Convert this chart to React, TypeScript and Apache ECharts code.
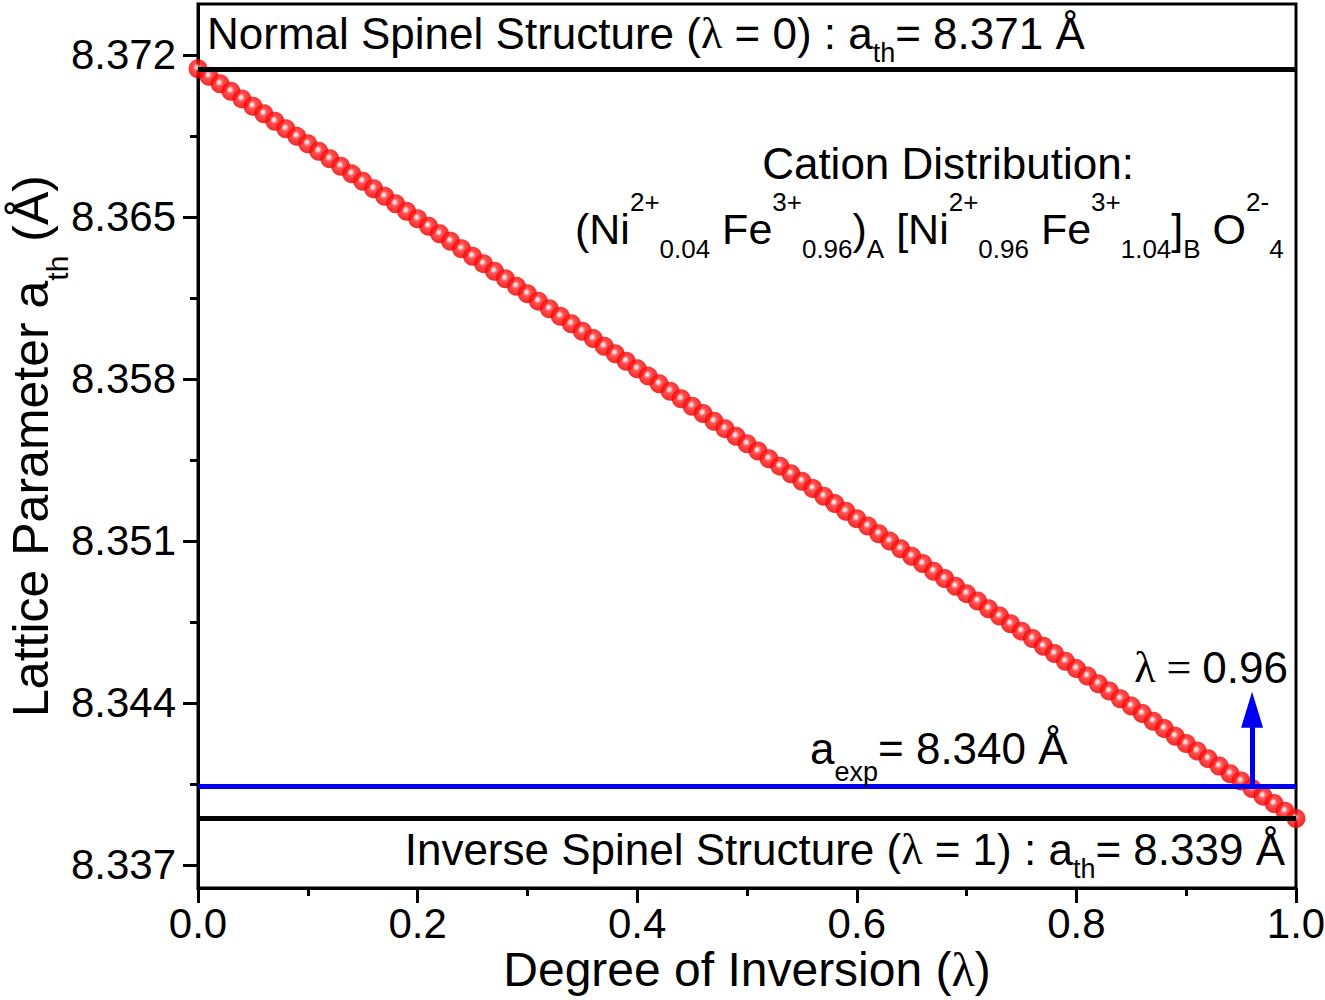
import React, { useEffect, useRef } from "react";
import * as echarts from "echarts";

// ---- data ----
const LAMBDA = [
  0.0, 0.01, 0.02, 0.03, 0.04, 0.05, 0.06, 0.07, 0.08, 0.09,
  0.1, 0.11, 0.12, 0.13, 0.14, 0.15, 0.16, 0.17, 0.18, 0.19,
  0.2, 0.21, 0.22, 0.23, 0.24, 0.25, 0.26, 0.27, 0.28, 0.29,
  0.3, 0.31, 0.32, 0.33, 0.34, 0.35, 0.36, 0.37, 0.38, 0.39,
  0.4, 0.41, 0.42, 0.43, 0.44, 0.45, 0.46, 0.47, 0.48, 0.49,
  0.5, 0.51, 0.52, 0.53, 0.54, 0.55, 0.56, 0.57, 0.58, 0.59,
  0.6, 0.61, 0.62, 0.63, 0.64, 0.65, 0.66, 0.67, 0.68, 0.69,
  0.7, 0.71, 0.72, 0.73, 0.74, 0.75, 0.76, 0.77, 0.78, 0.79,
  0.8, 0.81, 0.82, 0.83, 0.84, 0.85, 0.86, 0.87, 0.88, 0.89,
  0.9, 0.91, 0.92, 0.93, 0.94, 0.95, 0.96, 0.97, 0.98, 0.99,
  1.0,
];

const A_TH = [
  8.3714, 8.37108, 8.37075, 8.37043, 8.3701, 8.36978, 8.36946, 8.36913, 8.36881, 8.36848,
  8.36816, 8.36784, 8.36751, 8.36719, 8.36686, 8.36654, 8.36622, 8.36589, 8.36557, 8.36524,
  8.36492, 8.3646, 8.36427, 8.36395, 8.36362, 8.3633, 8.36298, 8.36265, 8.36233, 8.362,
  8.36168, 8.36136, 8.36103, 8.36071, 8.36038, 8.36006, 8.35974, 8.35941, 8.35909, 8.35876,
  8.35844, 8.35812, 8.35779, 8.35747, 8.35714, 8.35682, 8.3565, 8.35617, 8.35585, 8.35552,
  8.3552, 8.35488, 8.35455, 8.35423, 8.3539, 8.35358, 8.35326, 8.35293, 8.35261, 8.35228,
  8.35196, 8.35164, 8.35131, 8.35099, 8.35066, 8.35034, 8.35002, 8.34969, 8.34937, 8.34904,
  8.34872, 8.3484, 8.34807, 8.34775, 8.34742, 8.3471, 8.34678, 8.34645, 8.34613, 8.3458,
  8.34548, 8.34516, 8.34483, 8.34451, 8.34418, 8.34386, 8.34354, 8.34321, 8.34289, 8.34256,
  8.34224, 8.34192, 8.34159, 8.34127, 8.34094, 8.34062, 8.3403, 8.33997, 8.33965, 8.33932,
  8.339,
];

const X_TICKS_INTERVAL = 0.2;
const Y_TICKS = [8.337, 8.344, 8.351, 8.358, 8.365, 8.372];
const Y_MINOR_TICKS = [8.3405, 8.3475, 8.3545, 8.3615, 8.3685];

const A_NORMAL = 8.3714; // λ = 0
const A_INVERSE = 8.339; // λ = 1
const A_EXP = 8.3404; // experimental
const LAMBDA_EXP = 0.96;
const ARROW_END = 8.3437;

const Y_MIN = 8.336;
const Y_MAX = 8.3742;

// ---- styling ----
const SANS = "'Liberation Sans', Arial, Helvetica, sans-serif";
const SERIF = "'Liberation Serif', 'Times New Roman', serif";
const BLACK = "#000000";
const BLUE = "#0000f0";

function richStyles(fm: number, fs: number, rSup: number, rSub: number) {
  const half = Math.max(rSup, rSub) + fs / 2 + 2;
  const L = half * 2;
  return {
    m: { fontSize: fm, fontFamily: SANS, lineHeight: L, color: BLACK },
    s: { fontSize: fm, fontFamily: SERIF, lineHeight: L, color: BLACK },
    sup: {
      fontSize: fs,
      fontFamily: SANS,
      color: BLACK,
      verticalAlign: "top",
      lineHeight: 1,
      padding: [half - rSup - fs / 2, 0, 0, 0],
    },
    sub: {
      fontSize: fs,
      fontFamily: SANS,
      color: BLACK,
      verticalAlign: "bottom",
      lineHeight: 1,
      padding: [0, 0, half - rSub - fs / 2, 0],
    },
  };
}

function textEl(x: number, y: number, text: string, align: string, rich: any) {
  return {
    type: "text",
    x,
    y,
    z: 100,
    silent: true,
    style: {
      text,
      rich,
      align,
      verticalAlign: "middle",
      fill: BLACK,
    },
  };
}

export default function App() {
  const ref = useRef<HTMLDivElement>(null);

  useEffect(() => {
    if (!ref.current) return;
    const chart = echarts.init(ref.current, null, { renderer: "svg" });

    const sphere = new echarts.graphic.RadialGradient(0.45, 0.42, 0.58, [
      { offset: 0, color: "#ffffff" },
      { offset: 0.14, color: "#ffc4c4" },
      { offset: 0.34, color: "#ff2a2a" },
      { offset: 0.75, color: "#fa0000" },
      { offset: 1, color: "#e20000" },
    ]);

    const annRich = richStyles(44, 27, 26, 20);
    const formulaRich = richStyles(43, 26, 27, 20);
    const expRich = richStyles(44, 27, 26, 24);

    const option: any = {
      animation: false,
      backgroundColor: "#ffffff",
      grid: {
        left: 198,
        right: 29,
        top: 4,
        bottom: 112,
        show: true,
        borderColor: BLACK,
        borderWidth: 3,
        backgroundColor: "transparent",
        containLabel: false,
        outerBoundsMode: "none",
      },
      xAxis: {
        type: "value",
        min: 0,
        max: 1,
        interval: X_TICKS_INTERVAL,
        name: "{m|Degree of Inversion (}{s|λ}{m|)}",
        nameLocation: "middle",
        nameGap: 58,
        nameMoveOverlap: false,
        nameTextStyle: {
          rich: {
            m: { fontSize: 48, fontFamily: SANS, color: BLACK, lineHeight: 46 },
            s: { fontSize: 48, fontFamily: SERIF, color: BLACK, lineHeight: 46 },
          },
        },
        axisLine: { show: true, onZero: false, lineStyle: { color: BLACK, width: 3 } },
        axisTick: { show: true, inside: false, length: 15, lineStyle: { color: BLACK, width: 3 } },
        minorTick: { show: true, splitNumber: 2, length: 8, lineStyle: { color: BLACK, width: 3 } },
        splitLine: { show: false },
        minorSplitLine: { show: false },
        axisLabel: {
          show: true,
          fontSize: 42,
          lineHeight: 40,
          fontFamily: SANS,
          color: BLACK,
          margin: 15,
          showMinLabel: true,
          showMaxLabel: true,
          formatter: (v: number) => v.toFixed(1),
        },
      },
      yAxis: [
        {
          type: "value",
          min: Y_MIN,
          max: Y_MAX,
          position: "left",
          name: "{m|Lattice Parameter a}{sub|th}{m| (Å)}",
          nameLocation: "middle",
          nameRotate: 90,
          nameGap: 124,
          nameMoveOverlap: false,
          nameTextStyle: {
            rich: richStyles(50, 30, 26, 26),
          },
          axisLine: { show: true, onZero: false, lineStyle: { color: BLACK, width: 3 } },
          axisTick: {
            show: true,
            inside: false,
            length: 15,
            customValues: Y_TICKS,
            lineStyle: { color: BLACK, width: 3 },
          },
          splitLine: { show: false },
          axisLabel: {
            show: true,
            customValues: Y_TICKS,
            fontSize: 42,
            fontFamily: SANS,
            color: BLACK,
            margin: 22,
            formatter: (v: number) => v.toFixed(3),
          },
        },
        {
          type: "value",
          min: Y_MIN,
          max: Y_MAX,
          position: "left",
          axisLine: { show: false },
          axisTick: {
            show: true,
            inside: false,
            length: 8,
            customValues: Y_MINOR_TICKS,
            lineStyle: { color: BLACK, width: 3 },
          },
          axisLabel: { show: false },
          splitLine: { show: false },
        },
      ],
      series: [
        {
          name: "limits",
          type: "line",
          data: [],
          z: 1,
          silent: true,
          markLine: {
            silent: true,
            precision: 6,
            symbol: ["none", "none"],
            label: { show: false },
            emphasis: { disabled: true },
            lineStyle: { color: BLACK, width: 5, type: "solid" },
            data: [{ yAxis: A_NORMAL }, { yAxis: A_INVERSE }],
          },
        },
        {
          name: "a_th",
          type: "scatter",
          z: 3,
          symbol: "circle",
          symbolSize: 19,
          silent: true,
          itemStyle: { color: sphere, borderWidth: 0 },
          data: LAMBDA.map((x, i) => [x, A_TH[i]]),
        },
        {
          name: "experimental",
          type: "line",
          data: [],
          z: 5,
          silent: true,
          markLine: {
            silent: true,
            precision: 6,
            symbol: ["none", "none"],
            label: { show: false },
            emphasis: { disabled: true },
            lineStyle: { color: BLUE, width: 5, type: "solid" },
            data: [
              { yAxis: A_EXP },
              [
                { coord: [LAMBDA_EXP, A_EXP] },
                { coord: [LAMBDA_EXP, ARROW_END], symbol: "triangle", symbolSize: [22, 36] },
              ],
            ],
          },
        },
      ],
      graphic: [
        textEl(207, 33, "{m|Normal Spinel Structure (}{s|λ}{m| = 0) : a}{sub|th}{m|= 8.371 Å}", "left", annRich),
        textEl(948, 163, "{m|Cation Distribution:}", "center", annRich),
        textEl(
          575,
          229,
          "{m|(Ni}{sup|2+}{sub|0.04}{m| Fe}{sup|3+}{sub|0.96}{m|)}{sub|A}{m| [Ni}{sup|2+}{sub|0.96}{m| Fe}{sup|3+}{sub|1.04}{m|]}{sub|B}{m| O}{sup|2-}{sub|4}",
          "left",
          formulaRich
        ),
        textEl(1288, 667, "{s|λ = }{m|0.96}", "right", annRich),
        textEl(810, 748, "{m|a}{sub|exp}{m|= 8.340 Å}", "left", expRich),
        textEl(1285, 849, "{m|Inverse Spinel Structure (}{s|λ}{m| = 1) : a}{sub|th}{m|= 8.339 Å}", "right", annRich),
      ],
    };

    chart.setOption(option);
    return () => chart.dispose();
  }, []);

  return (
    <div
      ref={ref}
      style={{ position: "fixed", left: 0, top: 0, width: 1325, height: 1000, background: "#fff" }}
    />
  );
}
